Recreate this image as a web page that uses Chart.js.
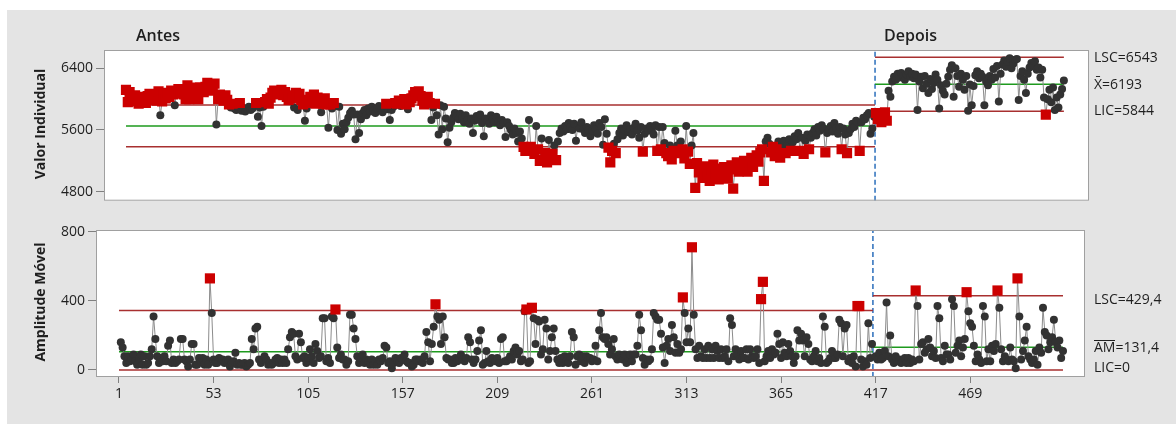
<!DOCTYPE html>
<html><head><meta charset="utf-8">
<script src="https://cdn.jsdelivr.net/npm/chart.js@4.4.1/dist/chart.umd.min.js"></script>
<style>
html,body{margin:0;padding:0;background:#fff;width:1176px;height:424px;overflow:hidden;}
#frame{position:absolute;left:7px;top:10px;width:1169px;height:414px;background:#e4e4e4;}
.c{position:absolute;left:0;width:1176px;}
.lbl{position:absolute;font-family:"Open Sans","Segoe UI",sans-serif;color:#1f1f1f;white-space:nowrap;line-height:16px;font-size:14px;}
.stage{font-weight:600;font-size:16px;line-height:18px;}
.ytitle{font-weight:700;font-size:14px;transform:translate(-50%,-50%) rotate(-90deg);}
.ov{display:inline-block;border-top:1px solid #1f1f1f;line-height:12px;}
</style></head><body>
<div id="frame"></div>
<div class="c" style="top:0;height:215px"><canvas id="top" width="1176" height="215"></canvas></div>
<div class="c" style="top:215px;height:209px"><canvas id="bot" width="1176" height="209"></canvas></div>

<div class="lbl stage" style="left:136px;top:26px">Antes</div>
<div class="lbl stage" style="left:884px;top:26px">Depois</div>
<div class="lbl ytitle" style="left:40px;top:124px">Valor Individual</div>
<div class="lbl ytitle" style="left:40px;top:302px">Amplitude Móvel</div>
<div class="lbl" style="left:1094px;top:49px">LSC=6543</div>
<div class="lbl" style="left:1094px;top:76px">X&#772;=6193</div>
<div class="lbl" style="left:1094px;top:102px">LIC=5844</div>
<div class="lbl" style="left:1094px;top:291px">LSC=429,4</div>
<div class="lbl" style="left:1094px;top:339px"><span class="ov">AM</span>=131,4</div>
<div class="lbl" style="left:1094px;top:359px">LIC=0</div>

<script>
// ---- data ----
const valores = [
6120,5960,6090,6010,5970,6050,6000,5940,6030,5980,
6010,5950,6040,6070,5990,6020,6060,5980,6100,5790,
5970,6050,6010,6080,6030,6110,6060,5920,6090,6130,
6070,6110,6060,6000,6180,6000,6060,6110,6090,6150,
6000,6150,6120,6090,6160,6210,6140,6110,6170,6200,
5670,6000,6060,6020,5980,6050,5990,5930,5890,5940,
5880,5860,5900,5950,5850,5880,5840,5870,5900,5860,
5880,5910,5950,5770,5890,5650,5900,5960,6000,5940,
6020,6080,6110,6070,6100,6060,6120,6050,6090,6030,
5990,6050,6010,5890,6080,5860,6070,5990,5930,5720,
5880,5950,6030,5990,6060,5940,6020,5980,5830,5940,
6010,5930,5630,5930,5880,5950,5910,5600,5900,5550,
5680,5610,5700,5760,5820,5850,5800,5480,5800,5560,
5740,5820,5860,5790,5880,5840,5900,5850,5820,5880,
5910,5860,5830,5890,5940,5870,5730,5860,5900,5950,
5940,5980,5910,5960,6000,5930,5870,5960,6010,6050,
6090,6070,6100,6040,5980,5930,5990,6030,5950,5730,
5890,5940,5790,5540,5920,5610,5900,5750,5440,5630,
5700,5760,5820,5780,5740,5810,5760,5700,5790,5730,
5680,5750,5560,5720,5780,5740,5800,5690,5520,5750,
5720,5680,5790,5740,5700,5770,5710,5660,5730,5690,
5510,5700,5650,5600,5540,5620,5560,5450,5580,5490,
5380,5330,5390,5730,5380,5340,5290,5650,5350,5200,
5490,5210,5300,5180,5470,5230,5290,5400,5210,5450,
5560,5620,5580,5650,5610,5690,5640,5600,5680,5460,
5650,5620,5700,5610,5560,5640,5600,5520,5590,5660,
5610,5550,5690,5640,5410,5740,5550,5370,5180,5330,
5420,5300,5480,5560,5620,5530,5600,5660,5570,5610,
5540,5630,5680,5590,5500,5640,5320,5550,5620,5590,
5650,5600,5540,5660,5330,5640,5350,5640,5430,5300,
5260,5400,5220,5330,5590,5400,5300,5450,5350,5230,
5650,5320,5160,5400,5560,4850,5170,5050,5120,4980,
5060,5130,5010,4940,5080,5150,5030,5100,4960,5070,
5000,5120,5050,4970,5090,5140,4840,5100,5180,5060,
5150,5090,5200,5130,5060,5180,5240,5120,5200,5270,
5190,5310,5350,4940,5450,5500,5420,5310,5380,5260,
5350,5450,5240,5390,5460,5300,5400,5480,5330,5440,
5520,5480,5560,5330,5500,5290,5460,5540,5350,5500,
5560,5610,5530,5640,5590,5660,5620,5310,5560,5600,
5650,5580,5690,5620,5550,5640,5350,5620,5540,5300,
5560,5610,5680,5640,5720,5700,5330,5700,5760,5740,
5790,5820,5550,5620,5770,5820,5740,5800,5700,5760,
5830,5720,6110,6030,6230,6290,6250,6330,6280,6340,
6300,6250,6320,6360,6290,6330,6270,6320,5860,6230,
6290,6140,6300,6200,6080,6260,6130,6210,6320,6250,
5880,6180,6110,6060,6200,6290,6380,6440,6030,6400,
6300,6160,6330,6250,6120,6300,5850,6190,5920,6170,
6310,6360,6270,6330,6290,5920,6230,6180,6300,6250,
6390,6280,6430,5970,6330,6450,6500,6420,6480,6530,
6400,6460,6510,6520,5990,6300,6360,6250,6080,6330,
6410,6470,6430,6490,6380,6410,6280,6380,6020,5800,
6000,6120,5960,6150,5860,6020,5890,6060,6130,6240
];
const estagios = ['Antes', 'Depois'];
const inicioEstagio = [1, 416];
const fimEstagio = [415, 520];
const lscI = [5923, 6543];
const mediaI = [5652, 6193];
const licI = [5381, 5844];
const lscAM = [344, 429.4];
const mediaAM = [106, 131.4];
const licAM = [0, 0];
const ticksY1 = [4800, 5600, 6400];
const ticksY2 = [0, 400, 800];
const ticksX = [1, 53, 105, 157, 209, 261, 313, 365, 417, 469];

// moving range (within each stage)
const amplitude = valores.map((v, k) =>
  (k === 0 || k + 1 === inicioEstagio[1]) ? null : Math.abs(v - valores[k - 1]));

const FONT = '"Open Sans","Segoe UI",sans-serif';
const C_LINE = '#8c8c8c', C_PT = '#323232', C_RED = '#cc0000',
      C_LIM = '#a83030', C_CTR = '#1e9a1e', C_PHASE = '#2a6ebb';
const fronteira = fimEstagio[0] + 0.5;

function datasets(vals, lsc, ctr, lic, yr) {
  const red = [], black = [], line = [];
  vals.forEach((v, k) => {
    const i = k + 1;
    if (i === inicioEstagio[1]) line.push({x: fronteira, y: null});
    if (v === null) return;
    const s = i >= inicioEstagio[1] ? 1 : 0;
    const p = {x: i, y: v};
    line.push(p);
    (v > lsc[s] || v < lic[s] ? red : black).push(p);
  });
  const seg = a => [{x: inicioEstagio[0], y: a[0]}, {x: fronteira, y: a[0]},
                    {x: fronteira, y: null},
                    {x: fronteira, y: a[1]}, {x: fimEstagio[1], y: a[1]}];
  const ln = (data, color, order, extra) => Object.assign({data, showLine: true, pointRadius: 0,
      borderColor: color, borderWidth: 1.5, spanGaps: false, order}, extra || {});
  return [
    {data: red, pointStyle: 'rect', pointRadius: 7.2, backgroundColor: C_RED, borderColor: C_RED, borderWidth: 0, showLine: false, order: 0},
    {data: black, pointStyle: 'circle', pointRadius: 4, backgroundColor: C_PT, borderColor: C_PT, borderWidth: 0, showLine: false, order: 1},
    ln(line, C_LINE, 2, {borderWidth: 1}),
    ln(seg(lsc), C_LIM, 3),
    ln(seg(ctr), C_CTR, 3),
    ln(seg(lic), C_LIM, 3),
    ln([{x: fronteira, y: yr[0]}, {x: fronteira, y: yr[1]}], C_PHASE, 4, {borderDash: [5, 3]})
  ];
}

const framePlugin = {
  id: 'frame',
  beforeDraw(c) { const a = c.chartArea, x = c.ctx; x.save(); x.fillStyle = '#fff'; x.fillRect(a.left, a.top, a.width, a.height); x.restore(); },
  afterDraw(c) { const a = c.chartArea, x = c.ctx; x.save(); x.strokeStyle = '#a0a0a0'; x.lineWidth = 1; x.strokeRect(a.left + 0.5, a.top + 0.5, a.width - 1, a.height - 1); x.restore(); }
};

function yScale(yr, ticks) {
  return {
    type: 'linear', min: yr[0], max: yr[1],
    afterBuildTicks: s => { s.ticks = ticks.map(v => ({value: v})); },
    afterFit: s => { s.width = 60; },
    grid: {display: true, drawOnChartArea: false, drawTicks: true, tickLength: 8, color: '#808080'},
    border: {display: false},
    ticks: {font: {family: FONT, size: 14}, color: '#1f1f1f', padding: 3, callback: v => String(v)}
  };
}

const common = {
  responsive: false, animation: false, events: [],
  plugins: {legend: {display: false}, tooltip: {enabled: false}},
  elements: {line: {tension: 0}}
};

const yr1 = [4683, 6637];
new Chart(document.getElementById('top'), {
  type: 'scatter',
  data: {datasets: datasets(valores, lscI, mediaI, licI, yr1)},
  options: Object.assign({}, common, {
    layout: {padding: {left: 44, top: 50, right: 87, bottom: 14.3}},
    scales: {
      x: {type: 'linear', display: false, min: -11.17, max: 533.9},
      y: yScale(yr1, ticksY1)
    }
  }),
  plugins: [framePlugin]
});

const yr2 = [-40.6, 810];
new Chart(document.getElementById('bot'), {
  type: 'scatter',
  data: {datasets: datasets(amplitude, lscAM, mediaAM, licAM, yr2)},
  options: Object.assign({}, common, {
    layout: {padding: {left: 36, top: 15, right: 91, bottom: 17}},
    scales: {
      x: {
        type: 'linear', min: -11.64, max: 532.1,
        afterBuildTicks: s => { s.ticks = ticksX.map(v => ({value: v})); },
        afterFit: s => { s.height = 30; },
        grid: {display: true, drawOnChartArea: false, drawTicks: true, tickLength: 6, color: '#808080'},
        border: {display: false},
        ticks: {font: {family: FONT, size: 14}, color: '#1f1f1f', padding: 3, autoSkip: false, maxRotation: 0, callback: v => String(v)}
      },
      y: yScale(yr2, ticksY2)
    }
  }),
  plugins: [framePlugin]
});
</script>
</body></html>
